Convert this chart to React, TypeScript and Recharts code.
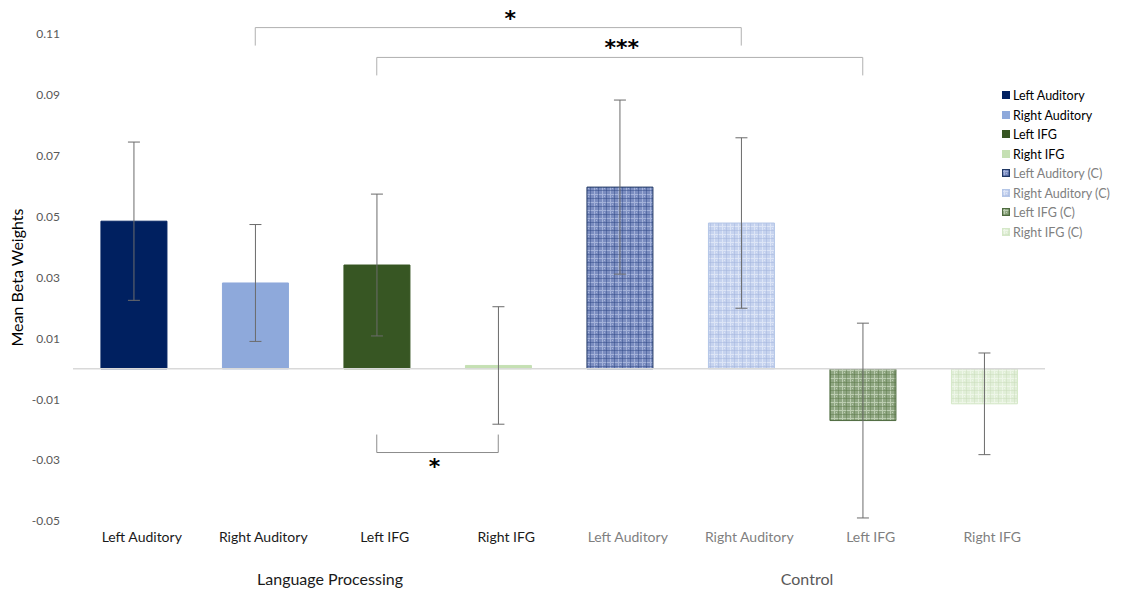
import React from 'react';
import { BarChart, Bar, XAxis, YAxis, Cell, ErrorBar, ReferenceLine, Legend } from 'recharts';

const ids = ['LP-LA', 'LP-RA', 'LP-LI', 'LP-RI', 'C-LA', 'C-RA', 'C-LI', 'C-RI'];
const tickLabels = ['Left Auditory', 'Right Auditory', 'Left IFG', 'Right IFG', 'Left Auditory', 'Right Auditory', 'Left IFG', 'Right IFG'];
const seriesNames = ['Left Auditory', 'Right Auditory', 'Left IFG', 'Right IFG', 'Left Auditory (C)', 'Right Auditory (C)', 'Left IFG (C)', 'Right IFG (C)'];
const means = [0.0485, 0.0282, 0.0341, 0.0011, 0.0597, 0.0479, -0.0170, -0.0115];
const errors = [0.026, 0.0192, 0.0233, 0.0193, 0.0286, 0.028, 0.032, 0.0167];
const groupLabels = ['Language Processing', 'Control'];
const yTicks = [-0.05, -0.03, -0.01, 0.01, 0.03, 0.05, 0.07, 0.09, 0.11];

const fills = ['#002060', '#8EA9DB', '#375623', '#C5E0B3', 'url(#pLA)', 'url(#pRA)', 'url(#pLI)', 'url(#pRI)'];
const strokes = ['#002060', '#8EA9DB', '#375623', '#C5E0B3', '#203864', '#B4C6E7', '#4E6B3F', '#D5E8C8'];

const data = ids.map((id, i) => ({ id, label: tickLabels[i], mean: means[i], err: errors[i] }));

const FONT = 'Lato, "Open Sans", sans-serif';
const BAND = 121.5;

const Pattern = ({ id, base, dark, light }: { id: string; base: string; dark: string; light: string }) => (
  <pattern id={id} width={8} height={8} patternUnits="userSpaceOnUse">
    <rect x={0} y={0} width={8} height={8} fill={base} />
    <rect x={0} y={2} width={8} height={1} fill={light} />
    <rect x={2} y={0} width={1} height={8} fill={light} />
    <rect x={0} y={6} width={8} height={1} fill={dark} opacity={0.45} />
    <rect x={6} y={0} width={1} height={8} fill={dark} opacity={0.45} />
    <rect x={4} y={4} width={1} height={1} fill={light} />
  </pattern>
);

const XTick = (props: any) => {
  const { x, y, payload, index } = props;
  const i = index ?? 0;
  const isCtrl = i >= 4;
  return (
    <g>
      <text x={x + 8} y={y + 13} textAnchor="middle" fontFamily={FONT} fontSize={14} fill={isCtrl ? '#7f7f7f' : '#1a1a1a'}>
        {tickLabels[ids.indexOf(payload.value)]}
      </text>
      {(i === 1 || i === 5) && (
        <text x={x + BAND / 2 + (i === 1 ? 14 : 5)} y={y + 56} textAnchor="middle" fontFamily={FONT} fontSize={16} fill={i === 1 ? '#1a1a1a' : '#595959'}>
          {groupLabels[i === 1 ? 0 : 1]}
        </text>
      )}
    </g>
  );
};

const LegendContent = () => (
  <div style={{ fontFamily: FONT, fontSize: 12.5 }}>
    {seriesNames.map((n, i) => (
      <div key={n} style={{ display: 'flex', alignItems: 'center', height: 19.5, color: i < 4 ? '#000' : '#808080' }}>
        <svg width={9} height={9} style={{ marginRight: 2 }}>
          <rect x={0.5} y={0.5} width={7} height={7} fill={fills[i]} stroke={strokes[i]} strokeWidth={1} />
        </svg>
        <span>{n}</span>
      </div>
    ))}
  </div>
);

const starLabel = (value: string, position: 'top' | 'bottom', dx: number, offset: number) => ({
  value,
  position,
  offset,
  dx,
  fill: '#000',
  fontSize: 22,
  fontWeight: 700,
  fontFamily: '"DejaVu Sans", sans-serif',
});

const bracketStroke = '#b0b0b0';

export default function App() {
  return (
    <div style={{ position: 'absolute', left: 0, top: 0, width: 1125, height: 589, background: '#fff' }}>
      <BarChart width={1125} height={589} data={data} margin={{ top: 34, right: 80, bottom: 0, left: 0 }} barCategoryGap="23%">
        <defs>
          <Pattern id="pLA" base="#7b8dc0" dark="#2a4482" light="#a4b2d9" />
          <Pattern id="pRA" base="#c6d3ef" dark="#9fb2dc" light="#dde5f6" />
          <Pattern id="pLI" base="#8fa682" dark="#587848" light="#bccdb1" />
          <Pattern id="pRI" base="#e1efd8" dark="#c8ddb9" light="#eef6e8" />
        </defs>
        <XAxis dataKey="id" axisLine={false} tickLine={false} height={68} tick={<XTick />} interval={0} />
        <YAxis
          domain={[-0.05, 0.11]}
          ticks={yTicks}
          width={73}
          axisLine={false}
          tickLine={false}
          tickSize={0}
          tickMargin={13}
          tick={{ fontFamily: FONT, fontSize: 12, fill: '#595959' }}
          tickFormatter={(v: number) => v.toFixed(2)}
          label={{ value: 'Mean Beta Weights', angle: -90, position: 'center', dx: -19, fontFamily: FONT, fontSize: 16, fill: '#000' }}
        />
        <ReferenceLine y={0} stroke="#d9d9d9" strokeWidth={1.5} />
        <Bar dataKey="mean" isAnimationActive={false} strokeWidth={1}>
          {data.map((d, i) => (
            <Cell key={d.id} fill={fills[i]} stroke={strokes[i]} />
          ))}
          <ErrorBar dataKey="err" width={6} stroke="#6b6b6b" strokeWidth={1} />
        </Bar>

        <ReferenceLine segment={[{ x: ids[1], y: 0.1121 }, { x: ids[5], y: 0.1121 }]} stroke={bracketStroke} ifOverflow="visible" label={starLabel('*', 'top', 12, 2)} />
        <ReferenceLine segment={[{ x: ids[1], y: 0.1062 }, { x: ids[1], y: 0.1121 }]} stroke={bracketStroke} ifOverflow="visible" />
        <ReferenceLine segment={[{ x: ids[5], y: 0.1062 }, { x: ids[5], y: 0.1121 }]} stroke={bracketStroke} ifOverflow="visible" />

        <ReferenceLine segment={[{ x: ids[2], y: 0.1023 }, { x: ids[6], y: 0.1023 }]} stroke={bracketStroke} ifOverflow="visible" label={starLabel('***', 'top', 2, 2)} />
        <ReferenceLine segment={[{ x: ids[2], y: 0.0964 }, { x: ids[2], y: 0.1023 }]} stroke={bracketStroke} ifOverflow="visible" />
        <ReferenceLine segment={[{ x: ids[6], y: 0.0964 }, { x: ids[6], y: 0.1023 }]} stroke={bracketStroke} ifOverflow="visible" />

        <ReferenceLine segment={[{ x: ids[2], y: -0.0275 }, { x: ids[3], y: -0.0275 }]} stroke="#8c8c8c" ifOverflow="visible" label={starLabel('*', 'bottom', -3, 6)} />
        <ReferenceLine segment={[{ x: ids[2], y: -0.0216 }, { x: ids[2], y: -0.0275 }]} stroke="#8c8c8c" ifOverflow="visible" />
        <ReferenceLine segment={[{ x: ids[3], y: -0.0216 }, { x: ids[3], y: -0.0275 }]} stroke="#8c8c8c" ifOverflow="visible" />

        <Legend
          layout="vertical"
          align="center"
          verticalAlign="middle"
          content={<LegendContent />}
          wrapperStyle={{ left: 1002, top: 86, width: 123, height: 160 }}
        />
      </BarChart>
    </div>
  );
}
